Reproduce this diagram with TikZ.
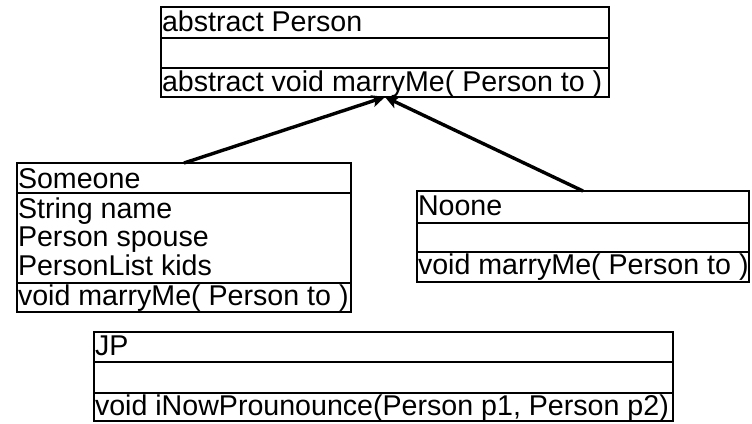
\documentclass[tikz,border=0pt]{standalone}
\usepackage{fontspec}
\setmainfont{Liberation Sans}
\usetikzlibrary{arrows.meta,calc}
\tikzset{
  rowbox/.style={draw, line width=2.4pt, anchor=north west, inner sep=0pt, outer sep=0pt},
  rowtext/.style={anchor=base west, inner sep=0pt, outer sep=0pt, font=\fontsize{28.6pt}{30pt}\selectfont},
  inherit/.style={line width=3.4pt, -{Stealth[length=13pt,width=12pt,inset=3pt]}}
}
\begin{document}
\begin{tikzpicture}[x=1pt,y=-1pt]
\useasboundingbox (0,0) rectangle (752,423);
% Person
\node[rowbox, minimum width=448pt, minimum height=31pt] (p1) at (161,7) {};
\node[rowbox, minimum width=448pt, minimum height=30pt] (p2) at (161,38) {};
\node[rowbox, minimum width=448pt, minimum height=29pt] (p3) at (161,68) {};
\node[rowtext] (pt1) at (162,31) {abstract Person};
\node[rowtext] (pt3) at (162,91) {abstract void marryMe( Person to )};
% Someone
\node[rowbox, minimum width=334pt, minimum height=30pt] (s1) at (17,163) {};
\node[rowbox, minimum width=334pt, minimum height=90pt] (s2) at (17,193) {};
\node[rowbox, minimum width=334pt, minimum height=29pt] (s3) at (17,283) {};
\node[rowtext] (st1) at (18,188) {Someone};
\node[rowtext] (st2) at (18,218) {String name};
\node[rowtext] (st3) at (18,246) {Person spouse};
\node[rowtext] (st4) at (18,275) {PersonList kids};
\node[rowtext] (st5) at (18,305) {void marryMe( Person to )};
% Noone
\node[rowbox, minimum width=332pt, minimum height=32pt] (n1) at (417,191) {};
\node[rowbox, minimum width=332pt, minimum height=29pt] (n2) at (417,223) {};
\node[rowbox, minimum width=332pt, minimum height=30pt] (n3) at (417,252) {};
\node[rowtext] (nt1) at (418,215) {Noone};
\node[rowtext] (nt3) at (418,274) {void marryMe( Person to )};
% JP
\node[rowbox, minimum width=579pt, minimum height=30pt] (j1) at (94,332) {};
\node[rowbox, minimum width=579pt, minimum height=31pt] (j2) at (94,362) {};
\node[rowbox, minimum width=579pt, minimum height=28pt] (j3) at (94,393) {};
\node[rowtext] (jt1) at (95,355) {JP};
\node[rowtext] (jt3) at (95,415) {void iNowProunounce(Person p1, Person p2)};
% inheritance
\coordinate (tip) at (p3.south);
\draw[inherit] (s1.north) -- (tip);
\draw[inherit] (n1.north) -- (tip);
\end{tikzpicture}
\end{document}
